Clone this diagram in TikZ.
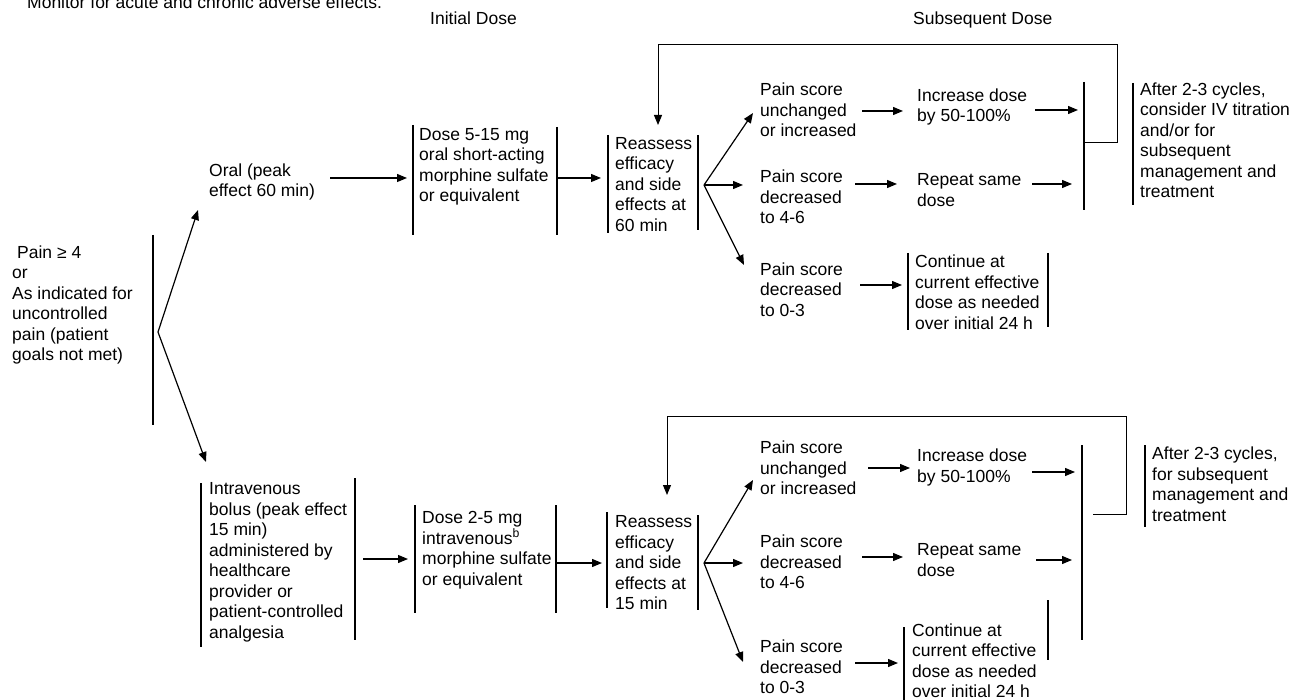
\documentclass[tikz,border=0pt]{standalone}
\usepackage{fontspec}
\setmainfont{Liberation Sans}
\usetikzlibrary{arrows.meta}
\tikzset{
  txt/.style={anchor=west, align=left, inner sep=0pt, font=\fontsize{17.5}{20.5}\selectfont},
  headtxt/.style={anchor=base west, inner sep=0pt, font=\fontsize{17.5}{20.5}\selectfont},
  bar/.style={line width=1.6pt},
  arr/.style={line width=1.2pt, -{Triangle[length=10pt,width=8pt]}},
  loopline/.style={line width=1pt, -{Triangle[length=10pt,width=8pt]}}
}
\begin{document}
\begin{tikzpicture}[x=1pt,y=-1pt]
\useasboundingbox (0,0) rectangle (1301,700);
% headings
\node[headtxt] (monitor) at (27,8.5) {Monitor for acute and chronic adverse effects.};
\node[headtxt] (initial) at (430,25) {Initial Dose};
\node[headtxt] (subseq) at (913,25) {Subsequent Dose};
% start
\node[txt] (pain) at (12,305) {\hspace*{5pt}Pain ≥ 4\\or\\As indicated for\\uncontrolled\\pain (patient\\goals not met)};
\draw[bar] (153,235) -- (153,425);
\coordinate (split0) at (158,332);
\coordinate (toOral) at (198,210);
\coordinate (toIV) at (206,462);
\draw[arr] (split0) -- (toOral);
\draw[arr] (split0) -- (toIV);
% oral branch
\node[txt] (oral) at (209,182) {Oral (peak\\effect 60 min)};
\node[txt] (dose1) at (419,167) {Dose 5-15 mg\\oral short-acting\\morphine sulfate\\or equivalent};
\draw[bar] (413,125) -- (413,235);
\draw[bar] (557,127) -- (557,235);
\node[txt] (reas1) at (615,184.5) {Reassess\\efficacy\\and side\\effects at\\60 min};
\draw[bar] (608,135) -- (608,233);
\draw[bar] (698,135) -- (698,230);
\coordinate (a1s) at (330,178);
\coordinate (a1e) at (407,178);
\coordinate (a2s) at (557,178);
\coordinate (a2e) at (601,178);
\draw[arr] (a1s) -- (a1e);
\draw[arr] (a2s) -- (a2e);
\coordinate (split1) at (704,185);
\coordinate (t1a) at (753,113);
\coordinate (t1b) at (743,185);
\coordinate (t1c) at (744,265);
\draw[arr] (split1) -- (t1a);
\draw[arr] (split1) -- (t1b);
\draw[arr] (split1) -- (t1c);
\node[txt] (ps1a) at (760,110) {Pain score\\unchanged\\or increased};
\node[txt] (ps1b) at (760,197) {Pain score\\decreased\\to 4-6};
\node[txt] (ps1c) at (760,289.5) {Pain score\\decreased\\to 0-3};
\coordinate (b1s) at (862,111);
\coordinate (b1e) at (903,111);
\coordinate (b2s) at (855,184);
\coordinate (b2e) at (897,184);
\coordinate (b3s) at (860,285);
\coordinate (b3e) at (902,285);
\draw[arr] (b1s) -- (b1e);
\draw[arr] (b2s) -- (b2e);
\draw[arr] (b3s) -- (b3e);
\node[txt] (inc1) at (917,107) {Increase dose\\by 50-100\%};
\node[txt] (rep1) at (917,190) {Repeat same\\dose};
\node[txt] (cont1) at (915,292) {Continue at\\current effective\\dose as needed\\over initial 24 h};
\draw[bar] (908,253) -- (908,330);
\draw[bar] (1048,253) -- (1048,327);
\coordinate (c1s) at (1035,110);
\coordinate (c1e) at (1078,110);
\coordinate (c2s) at (1032,184);
\coordinate (c2e) at (1072,184);
\draw[arr] (c1s) -- (c1e);
\draw[arr] (c2s) -- (c2e);
\draw[bar] (1084,82) -- (1084,210);
\coordinate (jn1) at (1084,143);
\coordinate (lp1) at (1117,45);
\coordinate (back1) at (658,125);
\draw[loopline] (jn1) -| (lp1) -| (back1);
\node[txt] (after1) at (1140,140) {After 2-3 cycles,\\consider IV titration\\and/or for\\subsequent\\management and\\treatment};
\draw[bar] (1133,83) -- (1133,205);
% intravenous branch
\node[txt] (iv) at (209,562.5) {Intravenous\\bolus (peak effect\\15 min)\\administered by\\healthcare\\provider or\\patient-controlled\\analgesia};
\draw[bar] (201,483) -- (201,647);
\draw[bar] (355,478) -- (355,640);
\node[txt] (dose2) at (422,550) {Dose 2-5 mg\\intravenous\textsuperscript{b}\\morphine sulfate\\or equivalent};
\draw[bar] (415,505) -- (415,613);
\draw[bar] (556,505) -- (556,613);
\node[txt] (reas2) at (615,563) {Reassess\\efficacy\\and side\\effects at\\15 min};
\draw[bar] (607,512) -- (607,608);
\draw[bar] (698,515) -- (698,610);
\coordinate (d1s) at (363,559);
\coordinate (d1e) at (408,559);
\coordinate (d2s) at (556,563);
\coordinate (d2e) at (602,563);
\draw[arr] (d1s) -- (d1e);
\draw[arr] (d2s) -- (d2e);
\coordinate (split2) at (704,563);
\coordinate (t2a) at (753,480);
\coordinate (t2b) at (743,563);
\coordinate (t2c) at (743,662);
\draw[arr] (split2) -- (t2a);
\draw[arr] (split2) -- (t2b);
\draw[arr] (split2) -- (t2c);
\node[txt] (ps2a) at (760,468) {Pain score\\unchanged\\or increased};
\node[txt] (ps2b) at (760,562) {Pain score\\decreased\\to 4-6};
\node[txt] (ps2c) at (760,667) {Pain score\\decreased\\to 0-3};
\coordinate (e1s) at (868,468);
\coordinate (e1e) at (910,468);
\coordinate (e2s) at (862,557);
\coordinate (e2e) at (903,557);
\coordinate (e3s) at (855,663);
\coordinate (e3e) at (898,663);
\draw[arr] (e1s) -- (e1e);
\draw[arr] (e2s) -- (e2e);
\draw[arr] (e3s) -- (e3e);
\node[txt] (inc2) at (917,467.5) {Increase dose\\by 50-100\%};
\node[txt] (rep2) at (917,560) {Repeat same\\dose};
\node[txt] (cont2) at (912,660.5) {Continue at\\current effective\\dose as needed\\over initial 24 h};
\draw[bar] (904,627) -- (904,700);
\draw[bar] (1048,600) -- (1048,660);
\coordinate (f1s) at (1032,472);
\coordinate (f1e) at (1075,472);
\coordinate (f2s) at (1036,560);
\coordinate (f2e) at (1072,560);
\draw[arr] (f1s) -- (f1e);
\draw[arr] (f2s) -- (f2e);
\draw[bar] (1082,445) -- (1082,640);
\coordinate (jn2) at (1093,514);
\coordinate (lp2) at (1126,416);
\coordinate (back2) at (667,495);
\draw[loopline] (jn2) -| (lp2) -| (back2);
\node[txt] (after2) at (1152,484) {After 2-3 cycles,\\for subsequent\\management and\\treatment};
\draw[bar] (1145,445) -- (1145,527);
\end{tikzpicture}
\end{document}
